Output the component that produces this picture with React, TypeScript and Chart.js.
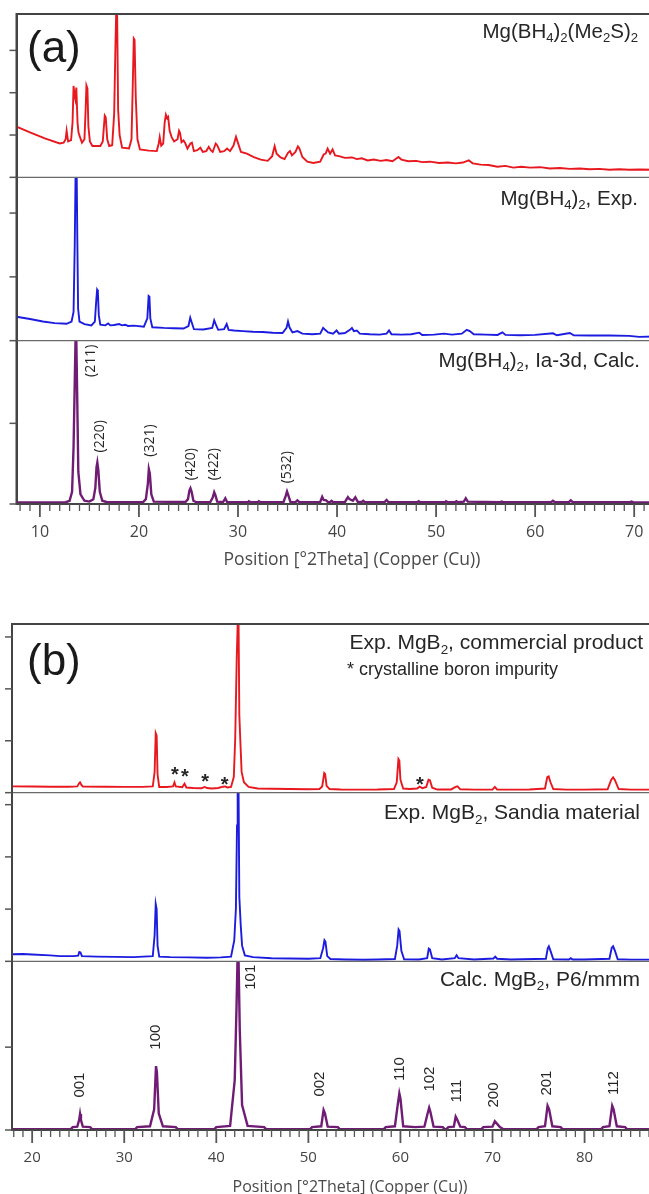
import React, { useEffect, useRef } from 'react';
import { Chart, registerables } from 'chart.js';

Chart.register(...registerables);

type Pt = [number, number];

// ---------------- Panel (a) data ----------------
const aXMin = 7.64;
const aXMax = 72.0;
const aTopMax = 3860;
const aMidMax = 2560;
const aBotMax = 2025;

const aMe2S: Pt[] = [
  [7.64, 1200], [9, 1060], [10.5, 920], [12.0, 800], [12.4, 820], [12.6, 900], [12.7, 1100], [12.85, 850],
  [13.15, 880], [13.3, 1300], [13.4, 2160], [13.5, 1950], [13.58, 1850], [13.68, 2120], [13.8, 1300], [13.9, 1060],
  [14.05, 950], [14.25, 820], [14.5, 900], [14.62, 1600], [14.7, 2170], [14.8, 2100], [14.9, 1200], [15.05, 850],
  [15.3, 740], [16.1, 740], [16.35, 850], [16.55, 1460], [16.65, 1420], [16.8, 900], [17.0, 740], [17.3, 760],
  [17.5, 1500], [17.62, 3000], [17.7, 3860], [17.8, 3860], [17.9, 1600], [18.05, 1000], [18.3, 700], [19.0, 680],
  [19.25, 900], [19.38, 2200], [19.48, 3280], [19.56, 3250], [19.68, 1900], [19.85, 900], [20.1, 660], [21.0, 630],
  [21.8, 620], [22.0, 800], [22.1, 950], [22.25, 750], [22.45, 800], [22.6, 1300], [22.72, 1480], [22.85, 1400],
  [22.95, 1430], [23.1, 1100], [23.3, 950], [23.55, 850], [23.9, 900], [24.05, 1100], [24.15, 1050], [24.3, 830],
  [24.5, 870], [24.65, 820], [24.9, 680], [25.2, 800], [25.35, 820], [25.55, 620], [25.9, 640], [26.2, 700],
  [26.45, 600], [26.8, 620], [27.05, 720], [27.25, 640], [27.45, 600], [27.75, 800], [27.9, 760], [28.2, 600],
  [28.6, 620], [28.9, 680], [29.2, 620], [29.55, 750], [29.8, 960], [29.95, 850], [30.3, 600], [30.9, 560],
  [31.6, 480], [32.3, 420], [33.0, 390], [33.45, 500], [33.7, 740], [33.9, 560], [34.3, 470], [34.7, 430],
  [35.05, 580], [35.25, 620], [35.45, 520], [35.8, 600], [36.05, 730], [36.2, 680], [36.5, 480], [37.0, 370],
  [37.6, 340], [38.3, 370], [38.65, 540], [38.85, 560], [39.05, 680], [39.3, 560], [39.55, 660], [39.8, 520],
  [40.2, 500], [40.8, 460], [41.5, 470], [42.0, 430], [42.5, 450], [43.1, 400], [43.7, 420], [44.4, 390],
  [45.0, 410], [45.6, 380], [46.2, 480], [46.5, 420], [47.2, 380], [48.0, 390], [48.6, 360], [49.4, 370],
  [50.3, 340], [51.2, 350], [52.0, 330], [52.7, 350], [53.3, 400], [53.7, 330], [54.5, 300], [55.3, 290],
  [56.2, 250], [57.0, 270], [57.8, 230], [58.6, 250], [59.5, 230], [60.5, 240], [61.5, 210], [62.5, 220],
  [63.5, 200], [64.5, 210], [65.5, 190], [66.5, 200], [67.5, 180], [68.5, 190], [69.5, 180], [70.5, 185], [72, 180],
];

const aExp: Pt[] = [
  [7.64, 375], [9, 340], [10.3, 300], [11.5, 275], [12.7, 265], [13.2, 300], [13.4, 450], [13.52, 1500],
  [13.6, 2560], [13.72, 2560], [13.78, 1600], [13.86, 500], [14.0, 300], [14.5, 260], [15.2, 240], [15.55, 300],
  [15.7, 650], [15.78, 800], [15.85, 780], [15.95, 400], [16.1, 250], [16.6, 240], [16.9, 270], [17.1, 240],
  [17.5, 245], [18.0, 260], [18.3, 240], [18.6, 250], [18.9, 230], [19.5, 235], [20.5, 220], [20.85, 350],
  [20.98, 700], [21.06, 690], [21.15, 350], [21.35, 210], [22.5, 200], [23.5, 195], [24.5, 190], [25.0, 230],
  [25.18, 360], [25.3, 300], [25.55, 180], [26.5, 175], [27.4, 200], [27.6, 320], [27.75, 260], [28.0, 170],
  [28.6, 180], [28.86, 260], [29.05, 170], [29.6, 160], [30.5, 150], [31.5, 140], [32.5, 135], [33.5, 125],
  [34.5, 120], [34.9, 200], [35.05, 300], [35.2, 210], [35.5, 130], [36.0, 150], [36.5, 110], [37.5, 100],
  [38.3, 110], [38.6, 200], [38.8, 170], [39.1, 130], [39.6, 110], [39.95, 160], [40.2, 110], [40.8, 120],
  [41.3, 170], [41.5, 200], [41.7, 150], [42.0, 160], [42.3, 110], [43.3, 100], [44.3, 95], [45.0, 110],
  [45.25, 160], [45.5, 100], [46.5, 95], [47.5, 100], [48.3, 125], [48.6, 90], [49.8, 95], [50.8, 110],
  [51.6, 95], [52.6, 110], [53.1, 170], [53.4, 150], [53.8, 100], [55.0, 95], [56.2, 90], [56.7, 130],
  [57.0, 90], [58.5, 85], [60.0, 90], [61.8, 115], [62.2, 85], [63.5, 120], [63.9, 85], [65.5, 80],
  [67.5, 80], [69.5, 75], [70.5, 60], [72, 65],
];

const aCalc: Pt[] = [
  [7.64, 20], [12.6, 22], [13.0, 40], [13.25, 150], [13.4, 700], [13.52, 1500], [13.6, 2025], [13.68, 2025],
  [13.76, 1400], [13.88, 400], [14.1, 120], [14.5, 40], [15.0, 30], [15.4, 60], [15.6, 200], [15.72, 460],
  [15.8, 516], [15.9, 420], [16.05, 150], [16.3, 40], [16.8, 22], [20.4, 22], [20.7, 60], [20.9, 250],
  [21.0, 433], [21.1, 380], [21.25, 120], [21.5, 30], [24.7, 25], [24.95, 60], [25.1, 170], [25.2, 196],
  [25.32, 150], [25.5, 40], [25.8, 22], [27.2, 25], [27.45, 80], [27.6, 146], [27.72, 110], [27.9, 30],
  [28.5, 25], [28.72, 71], [28.9, 25], [31.0, 22], [31.1, 35], [31.3, 22], [32.0, 22], [32.1, 35], [32.3, 22],
  [34.6, 25], [34.82, 100], [34.95, 154], [35.1, 100], [35.3, 25], [35.8, 22], [36.0, 45], [36.2, 22],
  [38.3, 25], [38.5, 90], [38.65, 50], [38.9, 45], [39.1, 22], [39.3, 25], [39.45, 40], [39.6, 22],
  [40.8, 25], [41.1, 85], [41.25, 60], [41.6, 40], [41.85, 83], [42.1, 25], [42.5, 25], [42.65, 40], [42.8, 22],
  [44.8, 25], [45.0, 50], [45.2, 22], [48.1, 22], [48.25, 35], [48.4, 22], [50.9, 22], [51.0, 35], [51.2, 22],
  [51.9, 22], [52.05, 35], [52.2, 22], [52.8, 30], [53.0, 71], [53.2, 30], [56.5, 22], [56.6, 30], [56.8, 22],
  [61.6, 22], [61.8, 40], [62.0, 22], [63.4, 22], [63.6, 45], [63.8, 22], [69.6, 22], [69.7, 30], [69.9, 22],
  [72, 20],
];

const aHklText = ['(211)', '(220)', '(321)', '(420)', '(422)', '(532)'];
const aHklX = [15.13, 16.03, 21.14, 25.24, 27.59, 34.95];
const aHklY = [1775, 840, 787, 494, 494, 456];

const aSeriesNames = ['Mg(BH_4)_2(Me_2S)_2', 'Mg(BH_4)_2, Exp.', 'Mg(BH_4)_2, Ia-3d, Calc.'];

// ---------------- Panel (b) data ----------------
const bXMin = 17.81;
const bXMax = 87.54;
const bTopMax = 3250;
const bMidMax = 3230;
const bBotMax = 2036;

const bCommercial: Pt[] = [
  [17.81, 121], [20, 118], [22, 115], [24, 115], [24.9, 120], [25.1, 180], [25.2, 198], [25.35, 150],
  [25.5, 118], [28, 115], [30, 112], [32, 112], [33.1, 120], [33.3, 400], [33.42, 1148], [33.52, 1100],
  [33.62, 350], [33.8, 110], [34.6, 108], [35.3, 120], [35.46, 198], [35.6, 120], [36.3, 105], [36.55, 173],
  [36.75, 100], [37.5, 90], [38.4, 85], [38.75, 110], [39.0, 90], [39.5, 80], [40.2, 90], [40.75, 115],
  [40.95, 121], [41.2, 100], [41.6, 110], [41.9, 300], [42.05, 1020], [42.22, 2600], [42.32, 3250],
  [42.42, 3250], [42.5, 1500], [42.62, 960], [42.75, 400], [43.0, 200], [43.5, 110], [44.5, 80], [46, 75],
  [48, 70], [50, 65], [51.2, 70], [51.5, 120], [51.72, 378], [51.82, 360], [51.98, 130], [52.3, 70],
  [53.5, 60], [55.5, 58], [57.5, 60], [59.3, 70], [59.6, 200], [59.78, 648], [59.88, 620], [60.0, 250],
  [60.3, 80], [61, 70], [61.8, 80], [62.1, 115], [62.4, 85], [62.8, 110], [63.05, 250], [63.2, 240],
  [63.45, 95], [64, 60], [65.5, 62], [66.0, 110], [66.2, 121], [66.5, 65], [68, 58], [70.0, 60], [70.25, 110],
  [70.5, 62], [72, 58], [74, 60], [75.7, 80], [75.95, 300], [76.1, 314], [76.3, 200], [76.6, 70], [78, 58],
  [80, 58], [82.5, 65], [82.9, 250], [83.1, 295], [83.3, 240], [83.7, 70], [85, 58], [87.54, 58],
];

const bSandia: Pt[] = [
  [17.81, 135], [19, 140], [20, 130], [21.95, 115], [23, 100], [24.5, 100], [25.0, 110], [25.12, 180],
  [25.25, 170], [25.4, 100], [27, 90], [29, 85], [31, 80], [33.1, 100], [33.3, 500], [33.42, 1096],
  [33.52, 1000], [33.62, 300], [33.8, 90], [35, 80], [37, 75], [39, 70], [40.5, 75], [41.6, 90], [41.95, 400],
  [42.13, 1013], [42.25, 2600], [42.32, 3230], [42.42, 3230], [42.5, 1237], [42.65, 700], [42.8, 300],
  [43.1, 115], [44, 80], [46, 60], [48, 55], [50, 50], [51.3, 60], [51.6, 250], [51.75, 404], [51.85, 380],
  [52.05, 100], [52.4, 45], [54, 35], [56, 30], [57.6, 35], [59.4, 45], [59.65, 300], [59.8, 609], [59.9, 580],
  [60.1, 200], [60.4, 40], [62, 35], [62.9, 60], [63.08, 244], [63.2, 230], [63.45, 60], [64.5, 35], [65.9, 60],
  [66.1, 115], [66.3, 60], [68, 35], [70.1, 55], [70.3, 90], [70.5, 50], [72, 35], [75.8, 50], [76.0, 250],
  [76.12, 288], [76.3, 200], [76.6, 40], [78.3, 35], [78.5, 60], [78.7, 35], [80, 35], [82.7, 50], [82.95, 260],
  [83.1, 288], [83.3, 200], [83.6, 40], [85, 33], [87.54, 33],
];

const bCalc: Pt[] = [
  [17.81, 10], [24.2, 10], [24.4, 35], [24.9, 40], [25.1, 120], [25.2, 193], [25.3, 120], [25.5, 40], [26.3, 35],
  [26.5, 10], [31.2, 10], [31.4, 35], [32.8, 45], [33.25, 250], [33.45, 771], [33.55, 700], [33.75, 200],
  [34.2, 45], [35.6, 35], [35.8, 10], [39.8, 10], [40.0, 35], [41.5, 50], [42.0, 600], [42.2, 1500],
  [42.3, 2036], [42.42, 2036], [42.55, 1200], [42.8, 300], [43.4, 50], [45.2, 35], [45.4, 10], [50.2, 10],
  [50.4, 35], [51.4, 45], [51.65, 241], [51.8, 200], [52.1, 40], [53.2, 35], [53.4, 10], [58.2, 10], [58.4, 35],
  [59.4, 45], [59.7, 300], [59.88, 442], [60.0, 380], [60.3, 45], [61.6, 35], [62.6, 40], [62.95, 200],
  [63.12, 269], [63.25, 220], [63.6, 40], [64.6, 35], [64.8, 10], [65.0, 10], [65.2, 35], [65.8, 40],
  [66.0, 161], [66.15, 130], [66.5, 40], [67.0, 35], [67.2, 10], [68.8, 10], [69.0, 35], [70.0, 40],
  [70.25, 105], [70.45, 80], [70.8, 35], [71.2, 10], [74.8, 10], [75.0, 35], [75.7, 45], [75.98, 293],
  [76.15, 250], [76.5, 45], [77.4, 35], [77.6, 10], [81.8, 10], [82.0, 35], [82.7, 45], [83.0, 293],
  [83.15, 250], [83.5, 45], [84.4, 35], [84.6, 10], [87.54, 10],
];

const bHklText = ['001', '100', '101', '002', '110', '102', '111', '200', '201', '112'];
const bHklX = [25.16, 33.45, 43.75, 51.3, 59.94, 63.2, 66.1, 70.2, 75.86, 83.2];
const bHklY = [542, 1121, 1844, 554, 735, 615, 470, 422, 566, 566];

const bStarX = [35.5, 36.6, 38.8, 40.9, 62.1];
const bStarY = [442, 390, 294, 250, 250];

const bSeriesNames = ['Exp. MgB_2, commercial product', 'Exp. MgB_2, Sandia material', 'Calc. MgB_2, P6/mmm'];
const bFootnote = '* crystalline boron impurity';

const axisTitle = 'Position [°2Theta] (Copper (Cu))';

const yTickStep = 1000;
const xMajorStep = 10;

// ---------------- styles ----------------
const RED = '#e8181f';
const BLUE = '#1c1ce0';
const PURPLE = '#701c74';
const AXIS = '#444';
const SEP = '#6a6a6a';
const TXT = '#262626';
const ARIAL = '"Liberation Sans", Arial, sans-serif';
const SEGOE = '"Open Sans", "Noto Sans", sans-serif';

type Spec = {
  top: number;
  w: number;
  h: number;
  padTop: number;
  yAxisW: number;
  xAxisH: number;
  xMin: number;
  xMax: number;
  tickFont: number;
  tickPad: number;
  series: { pts: Pt[]; color: string; width: number; max: number }[];
  names: string[];
  nameRight: number[];
  nameBase: number[];
  nameSize: number;
  letter: string;
  letterX: number;
  letterBase: number;
  hklText: string[];
  hklX: number[];
  hklY: number[];
  hklFont: string;
  starX?: number[];
  starY?: number[];
  foot?: string;
  footX?: number;
  footBase?: number;
  titleX: number;
  titleY: number;
  titleSize: number;
};

function parseRich(t: string) {
  const segs: { s: string; sub: boolean }[] = [];
  let buf = '';
  let i = 0;
  while (i < t.length) {
    if (t[i] === '_' && i + 1 < t.length) {
      if (buf) { segs.push({ s: buf, sub: false }); buf = ''; }
      segs.push({ s: t[i + 1], sub: true });
      i += 2;
    } else {
      buf += t[i];
      i++;
    }
  }
  if (buf) segs.push({ s: buf, sub: false });
  return segs;
}

function drawRich(ctx: CanvasRenderingContext2D, text: string, x: number, y: number, size: number, align: string) {
  const segs = parseRich(text);
  const subSize = size * 0.64;
  let total = 0;
  const widths = segs.map((g) => {
    ctx.font = `${g.sub ? subSize : size}px ${ARIAL}`;
    const w = ctx.measureText(g.s).width;
    total += w;
    return w;
  });
  let cx = align === 'right' ? x - total : align === 'center' ? x - total / 2 : x;
  ctx.fillStyle = TXT;
  ctx.textAlign = 'left';
  ctx.textBaseline = 'alphabetic';
  segs.forEach((g, i) => {
    ctx.font = `${g.sub ? subSize : size}px ${ARIAL}`;
    ctx.fillText(g.s, cx, g.sub ? y + size * 0.2 : y);
    cx += widths[i];
  });
}

const yIds = ['yBot', 'yMid', 'yTop'];

function makeDecor(spec: Spec) {
  return {
    id: 'decor' + spec.letter,
    afterDatasetsDraw(chart: any) {
      const ctx: CanvasRenderingContext2D = chart.ctx;
      const a = chart.chartArea;
      const xs = chart.scales.x;
      ctx.save();
      // separators between sub-panels
      ctx.strokeStyle = SEP;
      ctx.lineWidth = 1.2;
      ['yMid', 'yTop'].forEach((id) => {
        const s = chart.scales[id];
        ctx.beginPath();
        ctx.moveTo(a.left, s.bottom);
        ctx.lineTo(a.right, s.bottom);
        ctx.stroke();
      });
      // outer frame
      ctx.strokeStyle = AXIS;
      ctx.lineWidth = 2;
      ctx.strokeRect(a.left, a.top, a.right - a.left, a.bottom - a.top);
      // y ticks for each stacked sub-panel
      ctx.strokeStyle = '#555';
      ctx.lineWidth = 1.5;
      yIds.forEach((id) => {
        const s = chart.scales[id];
        for (let v = 0; v <= s.max; v += yTickStep) {
          const py = s.getPixelForValue(v);
          if (py - s.top < 5) continue;
          ctx.beginPath();
          ctx.moveTo(a.left - 7, py);
          ctx.lineTo(a.left, py);
          ctx.stroke();
        }
      });
      // x ticks (major & minor)
      for (let v = Math.ceil(xs.min); v <= Math.floor(xs.max); v++) {
        const px = xs.getPixelForValue(v);
        const major = v % xMajorStep === 0;
        ctx.lineWidth = major ? 1.8 : 1.3;
        ctx.strokeStyle = '#555';
        ctx.beginPath();
        ctx.moveTo(px, a.bottom);
        ctx.lineTo(px, a.bottom + (major ? 13 : 7));
        ctx.stroke();
      }
      // series names
      spec.names.forEach((n, i) => drawRich(ctx, n, spec.nameRight[i], spec.nameBase[i], spec.nameSize, 'right'));
      if (spec.foot) {
        ctx.font = `18px ${ARIAL}`;
        ctx.fillStyle = TXT;
        ctx.textAlign = 'left';
        ctx.textBaseline = 'alphabetic';
        ctx.fillText(spec.foot, spec.footX!, spec.footBase!);
      }
      // hkl labels (rotated)
      const yb = chart.scales.yBot;
      ctx.fillStyle = TXT;
      ctx.font = spec.hklFont;
      ctx.textAlign = 'center';
      ctx.textBaseline = 'middle';
      spec.hklText.forEach((t, i) => {
        const px = xs.getPixelForValue(spec.hklX[i]);
        const py = yb.getPixelForValue(spec.hklY[i]);
        ctx.save();
        ctx.translate(px, py);
        ctx.rotate(-Math.PI / 2);
        ctx.fillText(t, 0, 0);
        ctx.restore();
      });
      // impurity stars
      if (spec.starX) {
        const yt = chart.scales.yTop;
        ctx.font = `bold 20px ${ARIAL}`;
        ctx.textAlign = 'center';
        ctx.textBaseline = 'alphabetic';
        spec.starX.forEach((sx, i) => {
          const px = xs.getPixelForValue(sx);
          const py = yt.getPixelForValue(spec.starY![i]);
          ctx.fillText('*', px, py + 11);
        });
      }
      // panel letter
      ctx.font = `44px ${ARIAL}`;
      ctx.fillStyle = '#1a1a1a';
      ctx.textAlign = 'left';
      ctx.textBaseline = 'alphabetic';
      ctx.fillText(spec.letter, spec.letterX, spec.letterBase);
      // axis title
      ctx.font = `${spec.titleSize}px ${SEGOE}`;
      ctx.fillStyle = '#4a4a4a';
      ctx.textAlign = 'center';
      ctx.textBaseline = 'middle';
      ctx.fillText(axisTitle, spec.titleX, spec.titleY);
      ctx.restore();
    },
  };
}

function buildConfig(spec: Spec): any {
  const scales: any = {
    x: {
      type: 'linear',
      position: 'bottom',
      min: spec.xMin,
      max: spec.xMax,
      afterFit: (s: any) => { s.height = spec.xAxisH; },
      grid: { display: true, drawOnChartArea: false, drawTicks: true, tickLength: 13, tickColor: 'rgba(0,0,0,0)' },
      border: { display: true, color: AXIS, width: 2 },
      ticks: {
        stepSize: 1,
        autoSkip: false,
        maxRotation: 0,
        padding: spec.tickPad,
        color: '#444',
        font: { family: SEGOE, size: spec.tickFont },
        callback: (v: number) => (Math.abs(v % xMajorStep) < 1e-6 ? String(v) : ''),
      },
    },
  };
  spec.series.forEach((s, i) => {
    scales[yIds[i]] = {
      type: 'linear',
      position: 'left',
      stack: 'panel',
      stackWeight: 1,
      min: 0,
      max: s.max,
      afterFit: (sc: any) => { sc.width = spec.yAxisW; },
      grid: { display: false },
      border: { display: true, color: AXIS, width: 2 },
      ticks: { display: false, stepSize: yTickStep },
    };
  });
  return {
    type: 'line',
    data: {
      datasets: spec.series.map((s, i) => ({
        data: s.pts.map(([x, y]) => ({ x, y })),
        xAxisID: 'x',
        yAxisID: yIds[i],
        borderColor: s.color,
        borderWidth: s.width,
        pointRadius: 0,
        tension: 0,
        fill: false,
      })),
    },
    options: {
      responsive: false,
      animation: false,
      events: [],
      layout: { padding: { top: spec.padTop, left: 0, right: 3, bottom: 0 } },
      plugins: { legend: { display: false }, tooltip: { enabled: false } },
      scales,
    },
    plugins: [makeDecor(spec)],
  };
}

const specA: Spec = {
  top: 0, w: 660, h: 580, padTop: 14, yAxisW: 16.5, xAxisH: 76,
  xMin: aXMin, xMax: aXMax, tickFont: 16, tickPad: 6,
  series: [
    { pts: aCalc, color: PURPLE, width: 2.4, max: aBotMax },
    { pts: aExp, color: BLUE, width: 1.9, max: aMidMax },
    { pts: aMe2S, color: RED, width: 1.9, max: aTopMax },
  ],
  names: [aSeriesNames[2], aSeriesNames[1], aSeriesNames[0]],
  nameRight: [640, 638, 638],
  nameBase: [366.7, 205, 38.3],
  nameSize: 20.5,
  letter: '(a)', letterX: 27, letterBase: 62,
  hklText: aHklText, hklX: aHklX, hklY: aHklY, hklFont: `14px ${SEGOE}`,
  titleX: 352, titleY: 560, titleSize: 17.5,
};

const specB: Spec = {
  top: 600, w: 660, h: 594, padTop: 24, yAxisW: 12, xAxisH: 64,
  xMin: bXMin, xMax: bXMax, tickFont: 15, tickPad: 6,
  series: [
    { pts: bCalc, color: PURPLE, width: 2.4, max: bBotMax },
    { pts: bSandia, color: BLUE, width: 1.9, max: bMidMax },
    { pts: bCommercial, color: RED, width: 1.9, max: bTopMax },
  ],
  names: [bSeriesNames[2], bSeriesNames[1], bSeriesNames[0]],
  nameRight: [640, 640, 643],
  nameBase: [386, 219.3, 49.3],
  nameSize: 21,
  letter: '(b)', letterX: 27, letterBase: 75,
  hklText: bHklText, hklX: bHklX, hklY: bHklY, hklFont: `15px ${ARIAL}`,
  starX: bStarX, starY: bStarY,
  foot: bFootnote, footX: 347, footBase: 75,
  titleX: 350, titleY: 587, titleSize: 16,
};

function Panel({ spec }: { spec: Spec }) {
  const ref = useRef<HTMLCanvasElement>(null);
  useEffect(() => {
    if (!ref.current) return;
    const chart = new Chart(ref.current, buildConfig(spec));
    return () => chart.destroy();
  }, [spec]);
  return (
    <canvas
      ref={ref}
      width={spec.w}
      height={spec.h}
      style={{ position: 'absolute', left: 0, top: spec.top, width: spec.w, height: spec.h, display: 'block' }}
    />
  );
}

export default function App() {
  return (
    <div style={{ position: 'absolute', left: 0, top: 0, width: 649, height: 1194, overflow: 'hidden', background: '#fff' }}>
      <Panel spec={specA} />
      <Panel spec={specB} />
    </div>
  );
}
